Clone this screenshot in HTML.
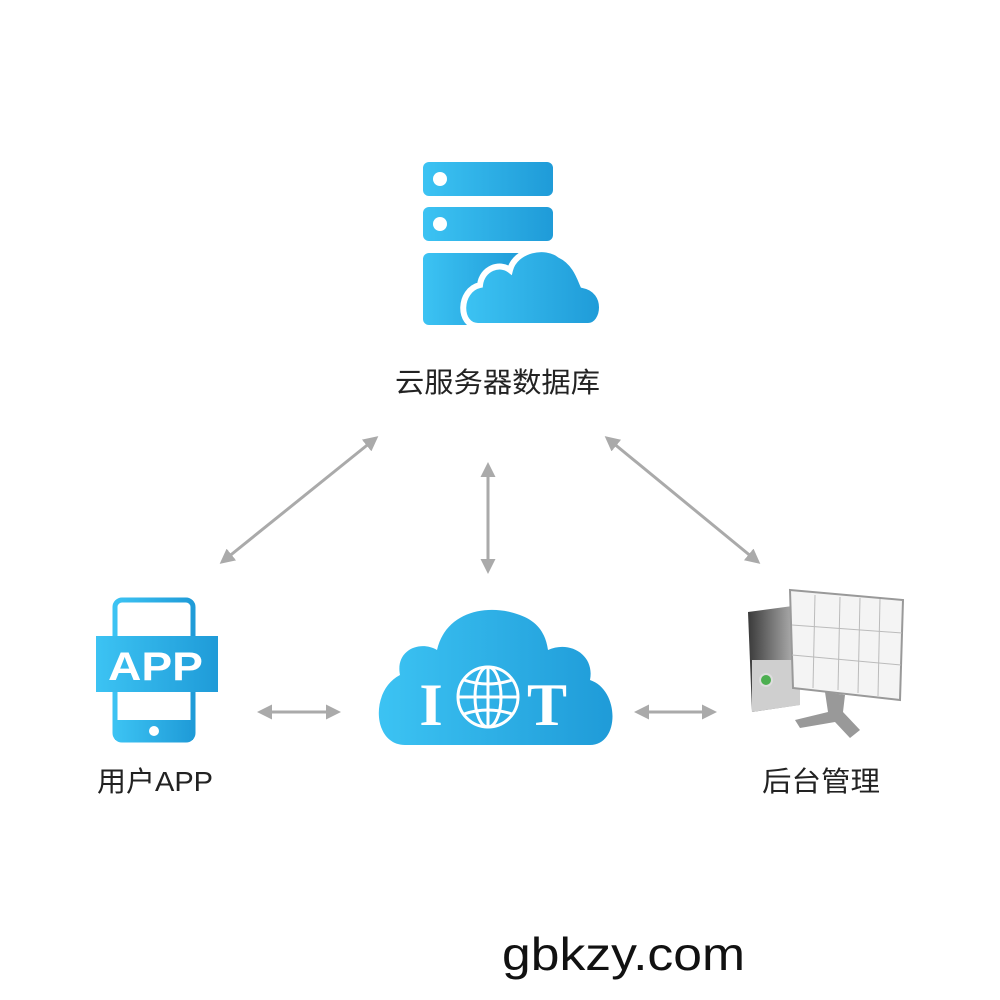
<!DOCTYPE html>
<html><head><meta charset="utf-8"><style>
html,body{margin:0;padding:0;background:#fff;width:1000px;height:1000px;overflow:hidden}
</style></head><body>
<svg width="1000" height="1000" viewBox="0 0 1000 1000" xmlns="http://www.w3.org/2000/svg">
<defs>
<linearGradient id="bl" x1="0" x2="1" y1="0" y2="0"><stop offset="0" stop-color="#3cc3f3"/><stop offset="1" stop-color="#1f9bd8"/></linearGradient>
<linearGradient id="gr" x1="0" x2="1"><stop offset="0" stop-color="#3a3a3a"/><stop offset="1" stop-color="#bdbdbd"/></linearGradient>
<marker id="ah" viewBox="0 0 10 10" refX="8" refY="5" markerWidth="5" markerHeight="5" orient="auto-start-reverse"><path d="M0,0 L10,5 L0,10 z" fill="#aaa"/></marker>
</defs>
<rect x="423" y="162" width="130" height="34" rx="6" fill="url(#bl)"/>
<circle cx="440" cy="179" r="7" fill="#fff"/>
<rect x="423" y="207" width="130" height="34" rx="6" fill="url(#bl)"/>
<circle cx="440" cy="224" r="7" fill="#fff"/>
<rect x="423" y="253" width="100" height="72" rx="6" fill="url(#bl)"/>
<path d="M478,326 C458,326 458,290 480,285 C482,268 500,262 510,270 C515,250 545,243 560,255 C575,262 580,278 583,285 C610,290 605,326 588,326 Z" fill="url(#bl)" stroke="#fff" stroke-width="6"/>
<text x="395" y="392" textLength="205" lengthAdjust="spacingAndGlyphs" font-family="Liberation Sans,Noto Sans CJK SC,sans-serif" font-size="28" fill="#222">云服务器数据库</text>
<g stroke="#aaa" stroke-width="3" marker-start="url(#ah)" marker-end="url(#ah)">
<line x1="222" y1="562" x2="376" y2="438"/>
<line x1="488" y1="465" x2="488" y2="571"/>
<line x1="607" y1="438" x2="758" y2="562"/>
<line x1="260" y1="712" x2="338" y2="712"/>
<line x1="637" y1="712" x2="714" y2="712"/>
</g>
<path d="M405,745 C372,745 370,690 400,675 C395,650 420,640 437,650 C445,615 480,605 510,612 C535,618 545,630 548,650 C570,640 595,655 590,680 C620,690 620,745 590,745 Z" fill="url(#bl)"/>
<text x="431" y="725" text-anchor="middle" font-family="Liberation Serif,serif" font-weight="bold" font-size="60" fill="#fff">I</text>
<text x="547" y="725" text-anchor="middle" font-family="Liberation Serif,serif" font-weight="bold" font-size="60" fill="#fff">T</text>
<g fill="none" stroke="#fff" stroke-width="3">
<circle cx="488" cy="697" r="30"/>
<ellipse cx="488" cy="697" rx="13" ry="30"/>
<line x1="488" y1="667" x2="488" y2="727"/>
<line x1="458" y1="697" x2="518" y2="697"/>
<path d="M464,680 Q488,688 512,680 M464,714 Q488,706 512,714"/>
</g>
<rect x="115" y="600" width="78" height="140" rx="7" fill="none" stroke="url(#bl)" stroke-width="5"/>
<rect x="115" y="720" width="78" height="20" fill="url(#bl)"/>
<circle cx="154" cy="731" r="5" fill="#fff"/>
<rect x="96" y="636" width="122" height="56" fill="url(#bl)"/>
<text x="108" y="680" textLength="95" lengthAdjust="spacingAndGlyphs" font-family="Liberation Sans,sans-serif" font-weight="bold" font-size="40" fill="#fff">APP</text>
<text x="97" y="791" textLength="116" lengthAdjust="spacingAndGlyphs" font-family="Liberation Sans,Noto Sans CJK SC,sans-serif" font-size="28" fill="#222">用户APP</text>
<path d="M748,612 L800,605 L800,705 L752,712 Z" fill="url(#gr)"/>
<path d="M752,660 L800,660 L800,705 L752,712 Z" fill="#cfcfcf"/>
<circle cx="766" cy="680" r="6" fill="#4caf50" stroke="#ddd" stroke-width="2"/>
<path d="M790,590 L903,600 L900,700 L793,688 Z" fill="#f4f4f4" stroke="#999" stroke-width="2"/>
<g stroke="#bbb" stroke-width="1">
<line x1="815" y1="595" x2="813" y2="688"/><line x1="840" y1="597" x2="838" y2="690"/>
<line x1="860" y1="598" x2="858" y2="693"/><line x1="880" y1="599" x2="878" y2="696"/>
<line x1="792" y1="625" x2="902" y2="633"/><line x1="792" y1="655" x2="901" y2="665"/>
</g>
<path d="M825,692 L845,695 L843,712 L860,730 L850,738 L835,722 L800,728 L795,720 L828,712 Z" fill="#999"/>
<text x="762" y="791" textLength="118" lengthAdjust="spacingAndGlyphs" font-family="Liberation Sans,Noto Sans CJK SC,sans-serif" font-size="28" fill="#222">后台管理</text>
<text x="502" y="970" textLength="243" lengthAdjust="spacingAndGlyphs" font-family="Liberation Sans,sans-serif" font-size="46" fill="#111">gbkzy.com</text>
</svg>
</body></html>
